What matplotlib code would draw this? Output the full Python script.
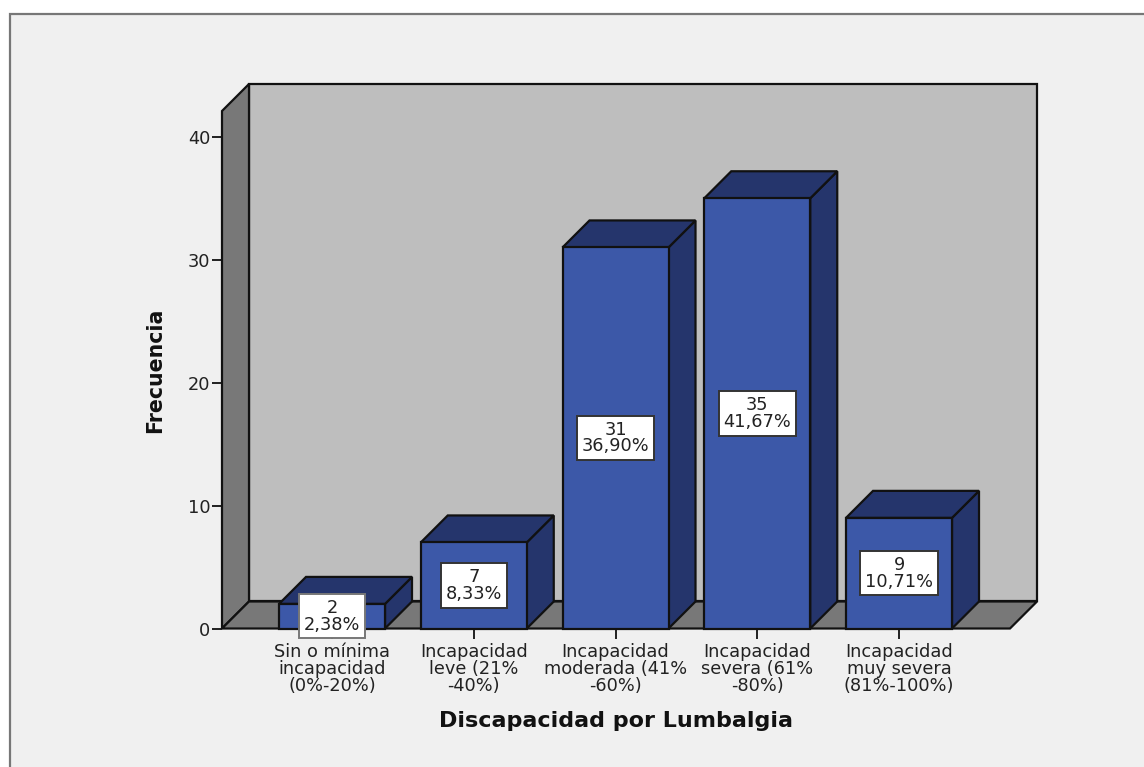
import matplotlib.pyplot as plt
from matplotlib.patches import Rectangle

W, H = 1144, 767

categories = [
    "Sin o mínima\nincapacidad\n(0%-20%)",
    "Incapacidad\nleve (21%\n-40%)",
    "Incapacidad\nmoderada (41%\n-60%)",
    "Incapacidad\nsevera (61%\n-80%)",
    "Incapacidad\nmuy severa\n(81%-100%)",
]
counts = [2, 7, 31, 35, 9]
percents = ["2,38%", "8,33%", "36,90%", "41,67%", "10,71%"]
yticks = [0, 10, 20, 30, 40]

FRONT = "#3c58a8"
DARK = "#25356c"
WALL = "#bebebe"
SIDE = "#787878"
EDGE = "#111111"
TEXT = "#222222"

# axes = front plane of the SPSS 3D box
fig = plt.figure(figsize=(W / 100, H / 100), dpi=100, facecolor="white")
ax = fig.add_axes([222 / W, 1 - 628.5 / H, (1010 - 222) / W, (628.5 - 111) / H])
ax.patch.set_visible(False)
for s in ax.spines.values():
    s.set_visible(False)

fig.patches.append(Rectangle((9.5 / W, -0.01), 1.1, 1 - 14 / H + 0.01,
                             transform=fig.transFigure, facecolor="#f0f0f0",
                             edgecolor="#777777", lw=1.6, zorder=-5))

ax.set_xlim(-0.776, 4.783)
ax.set_ylim(0, 42.1)
xmin, xmax = ax.get_xlim()
ymin, ymax = ax.get_ylim()

# oblique depth, 27 px both ways
dx = 27 / 141.75
dy = 27 / 12.29
bw = 106 / 141.75


def poly(xs, ys, color, z):
    ax.fill(xs, ys, facecolor=color, edgecolor=EDGE, lw=1.6, clip_on=False,
            joinstyle="miter", zorder=z)


poly([xmin + dx, xmax + dx, xmax + dx, xmin + dx],
     [dy, dy, ymax + dy, ymax + dy], WALL, 1)
poly([xmin, xmin + dx, xmin + dx, xmin],
     [0, dy, ymax + dy, ymax], SIDE, 2)
poly([xmin, xmax, xmax + dx, xmin + dx], [0, 0, dy, dy], SIDE, 2)

for i, v in enumerate(counts):
    l, r = i - bw / 2, i + bw / 2
    z = 3 + i
    poly([r, r + dx, r + dx, r], [0, dy, v + dy, v], DARK, z)
    poly([l, r, r + dx, l + dx], [v, v, v + dy, v + dy], DARK, z)
    ax.bar(i, v, width=bw, color=FRONT, edgecolor=EDGE, lw=1.6, zorder=z,
           clip_on=False)

for i, (v, p) in enumerate(zip(counts, percents)):
    ax.text(i, v / 2, f"{v}\n{p}", ha="center", va="center", fontsize=12.8,
            color=TEXT, linespacing=0.92, zorder=20, clip_on=False,
            bbox=dict(boxstyle="square,pad=0.27", facecolor="white",
                      edgecolor="#777777" if i == 0 else "#333333", lw=1.4))

ax.set_xticks(range(len(categories)))
ax.set_xticklabels(categories, fontsize=12.8, color=TEXT, linespacing=0.92)
ax.set_yticks(yticks)
ax.tick_params(axis="x", length=7.5, width=1.3, color=EDGE, pad=3)
ax.tick_params(axis="y", length=7.5, width=1.3, color=EDGE, pad=1, labelsize=12.8,
               labelcolor=TEXT)

fig.text(616 / W, 1 - 721 / H, "Discapacidad por Lumbalgia", ha="center",
         va="center", fontsize=16, fontweight="bold", color="#111111")
fig.text(155 / W, 1 - 370 / H, "Frecuencia", ha="center", va="center",
         rotation=90, fontsize=14.8, fontweight="bold", color="#111111")

fig.savefig("out.png", dpi=100)
